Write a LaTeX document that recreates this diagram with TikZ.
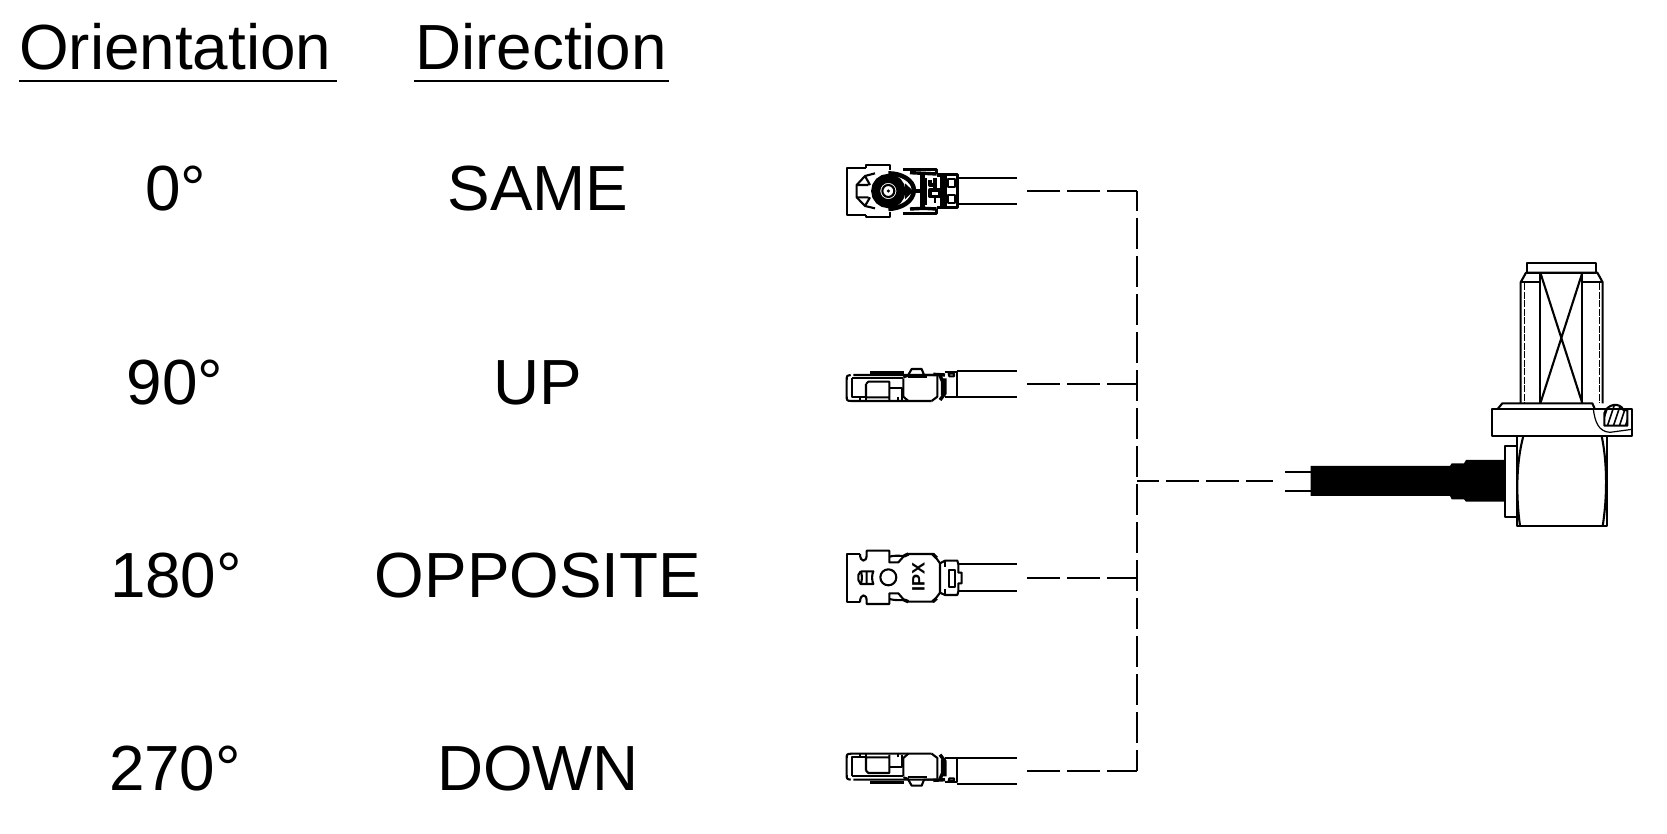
\documentclass[tikz,border=0pt]{standalone}
\usepackage{fontspec}
\setmainfont{Liberation Sans}
\tikzset{
  x=1pt,y=-1pt,
  lab/.style={anchor=base,inner sep=0pt,font=\fontsize{63.8}{64}\selectfont},
  head/.style={anchor=base west,inner sep=0pt,font=\fontsize{63.8}{64}\selectfont},
  rule/.style={line width=2pt},
  ln/.style={line width=2.1pt,line join=round},
  thk/.style={line width=3.4pt,line join=round},
  fine/.style={line width=1.2pt},
  dashline/.style={line width=2.4pt,dash pattern=on 33pt off 7pt},
  zoomframe/.style={x=0.33333pt,y=-0.33333pt},
}
% side view of the plug, in zoom units
\newcommand{\sideplug}{%
  \draw[ln] (70,105) -- (320,105) (62,105) .. controls (50,107) .. (50,122) -- (50,168) .. controls (50,182) .. (64,183) -- (305,183);
  \draw[ln] (66,115) -- (218,115) (66,115) -- (66,172) -- (108,172);
  \draw[thk] (120,97) -- (222,97);
  \draw[ln] (108,132) -- (115,125) -- (178,125) -- (178,180) (108,132) -- (108,172) -- (178,172);
  \draw[ln] (180,143) -- (215,143) -- (215,180) (200,115) -- (220,115);
  \draw[ln] (90,172) -- (90,183) (108,172) -- (108,183) (205,172) -- (205,183);
  \draw[ln] (220,115) -- (220,170) -- (235,183);
  \draw[ln] (220,112) -- (233,108) -- (245,87) -- (275,87) -- (282,105) -- (320,105);
  \draw[ln] (233,112) -- (290,112);
  \draw[ln] (305,183) -- (322,170) -- (322,108);
  \draw[thk] (330,107) -- (338,125) -- (338,165) (345,115) -- (345,160) -- (330,180);
  \draw[thk] (310,103) -- (345,105);
  \draw[ln] (345,97) -- (380,97) -- (380,170) -- (345,170);
  \draw[ln] (356,101) -- (372,101) -- (372,109) -- (358,109) -- cycle;
  \draw[ln] (380,92) -- (562,92) (380,170) -- (562,170);
}
\begin{document}
\begin{tikzpicture}
\useasboundingbox[fill=white] (0,0) rectangle (1667,834);

% headings
\node[head] (hOrient) at (19,69.5) {Orientation};
\node[head] (hDir) at (415,69.5) {Direction};
\coordinate (u1a) at (19,81); \coordinate (u1b) at (337,81);
\coordinate (u2a) at (414,81); \coordinate (u2b) at (669,81);
\draw[rule] (u1a) -- (u1b);
\draw[rule] (u2a) -- (u2b);

% table
\node[lab] (o0) at (176,211) {0°};
\node[lab] (o90) at (175,404) {90°};
\node[lab] (o180) at (176,597) {180°};
\node[lab] (o270) at (175,790) {270°};
\node[lab] (dSame) at (538,211) {SAME};
\node[lab] (dUp) at (538,404) {UP};
\node[lab] (dOpp) at (538,597) {OPPOSITE};
\node[lab] (dDown) at (538,790) {DOWN};

% plug, 0 deg
\begin{scope}[shift={(830,140)},zoomframe]
  \draw[ln] (108,83) -- (50,83) -- (50,225) -- (108,225);
  \draw[ln] (108,83) -- (108,74) -- (180,74) -- (180,90);
  \draw[ln] (108,225) -- (108,232) -- (180,232) -- (180,215);
  \draw[ln] (135,100) -- (105,108) -- (80,135) -- (80,172) -- (105,198) -- (135,205);
  \draw[ln] (80,135) -- (115,135) (80,172) -- (115,172) (105,108) -- (120,135) (105,198) -- (120,172);
  \draw[line width=9pt] (175,153) circle (38);
  \draw[ln] (175,153) circle (18);
  \fill (175,153) circle (5);
  \draw[line width=4.5pt] (175,100) .. controls (215,100) and (250,120) .. (252,150) .. controls (250,185) and (215,205) .. (175,207);
  \draw[thk] (220,88) -- (320,88) -- (320,102) (220,220) -- (320,220) -- (320,207);
  \draw[thk] (240,98) -- (280,100) -- (320,102) (240,207) -- (280,205) -- (320,207);
  \fill (225,130) -- (250,153) -- (225,178) -- cycle;
  \draw[line width=4.5pt] (250,153) -- (285,153) (278,105) -- (278,200) (285,115) -- (285,195);
  \draw[thk] (300,120) -- (300,135) -- (315,135) -- (315,115);
  \draw[thk] (315,135) -- (315,150) -- (300,150) -- (300,170) -- (330,170) -- (330,150) -- (315,150);
  \draw[ln] (315,170) -- (315,190);
  \draw[thk] (322,105) -- (345,105) (322,203) -- (345,203) (335,105) -- (335,203);
  \draw[thk] (345,103) -- (382,103) -- (382,203) -- (345,203) -- cycle;
  \draw[ln] (355,116) rectangle (375,140) (355,165) rectangle (375,190);
  \draw[ln] (382,113) -- (562,113) (382,192) -- (562,192);
\end{scope}

% plug, 90 deg
\begin{scope}[shift={(830,340)},zoomframe]
  \sideplug
\end{scope}

% plug, 180 deg
\begin{scope}[shift={(830,530)},zoomframe]
  \draw[ln] (90,72) -- (52,72) -- (52,217) -- (90,217);
  \draw[ln] (90,72) .. controls (90,98) and (110,98) .. (110,75) -- (110,62) -- (178,62) -- (178,97) -- (205,97) -- (222,78) -- (235,72) -- (310,72) -- (330,100) -- (330,188) -- (310,215) -- (235,215) -- (222,210) -- (205,190) -- (178,190) -- (178,222) -- (110,222) -- (110,212) .. controls (110,190) and (90,190) .. (90,217);
  \draw[ln] (178,80) .. controls (195,75) and (215,78) .. (222,78) (178,207) .. controls (195,212) and (215,210) .. (222,210);
  \draw[thk] (222,78) -- (235,72) (222,210) -- (235,215) (308,72) -- (320,84) (308,215) -- (320,205);
  \draw[ln] (330,100) -- (345,92) -- (382,92) -- (385,103) -- (385,128) -- (395,128) -- (395,160) -- (385,160) -- (385,184) -- (382,195) -- (345,195) -- (330,188);
  \draw[ln] (345,92) -- (345,110) (345,178) -- (345,195);
  \draw[ln] (356,120) rectangle (375,172);
  \draw[ln] (385,103) -- (562,103) (385,182) -- (562,182);
  \draw[ln] (175,142) circle (24);
  \draw[ln] (92,124) -- (130,124) .. controls (125,135) and (125,150) .. (130,162) -- (92,162) .. controls (97,150) and (97,135) .. (92,124);
  \draw[ln] (110,124) -- (110,162) (92,124) -- (85,135) -- (85,150) -- (92,162);
  \node[rotate=90,inner sep=0pt,font=\fontsize{18}{18}\bfseries\selectfont] (ipx) at (265,140) {IPX};
\end{scope}

% plug, 270 deg
\begin{scope}[shift={(830,814.67)},x=0.33333pt,y=0.33333pt]
  \sideplug
\end{scope}

% connectors
\coordinate (p1) at (1027,191);
\coordinate (p2) at (1027,384);
\coordinate (p3) at (1027,578);
\coordinate (p4) at (1027,771);
\coordinate (c1) at (1137,191);
\coordinate (c2) at (1137,384);
\coordinate (c3) at (1137,578);
\coordinate (c4) at (1137,771);
\coordinate (hub) at (1137,481);
\coordinate (lead) at (1273,481);
\draw[dashline] (p1) -- (c1);
\draw[dashline] (p2) -- (c2);
\draw[dashline] (p3) -- (c3);
\draw[dashline] (p4) -- (c4);
\draw[line width=2.4pt,dash pattern=on 31pt off 7pt,dash phase=11pt] (c1) -- (c4);
\draw[dashline,dash phase=6pt] (lead) -- (hub);

% solenoid
\begin{scope}[shift={(1270,250)},zoomframe]
  \draw[ln] (770,38) rectangle (978,68);
  \draw[ln] (752,460) -- (752,97) -- (768,68) -- (982,68) -- (998,97) -- (998,460);
  \draw[ln] (752,97) -- (811,97) (937,97) -- (998,97);
  \draw[ln] (811,68) -- (811,460) (937,68) -- (937,460);
  \draw[ln] (811,68) -- (937,460) (937,68) -- (811,460);
  \draw[fine,dash pattern=on 7pt off 1.5pt] (763,100) -- (763,460) (988,100) -- (988,460);
  \draw[ln] (682,478) -- (697,460) -- (967,460) -- (975,478);
  \draw[ln] (665,478) rectangle (1086,558);
  \draw[fine] (970,478) .. controls (975,515) and (985,545) .. (1020,547) -- (1086,538);
  \begin{scope}
    \clip (1003,527) -- (1003,490) .. controls (1010,462) and (1050,455) .. (1060,480) -- (1072,480) -- (1072,527) -- cycle;
    \foreach \i in {0,18,...,120} {
      \draw[line width=1.6pt] (990+\i,540) -- (1020+\i,450);
    }
  \end{scope}
  \draw[ln] (1003,527) -- (1003,490) .. controls (1010,462) and (1050,455) .. (1060,480) -- (1072,480) -- (1072,527) -- cycle;
  \draw[ln] (740,558) -- (740,828) -- (1012,828) -- (1012,558);
  \draw[ln] (760,558) .. controls (738,640) and (738,740) .. (750,828);
  \draw[ln] (995,558) .. controls (1012,640) and (1012,740) .. (998,828);
  \draw[ln] (740,588) -- (704,588) -- (704,802) -- (745,802);
  \fill (122,648) -- (540,648) -- (545,640) -- (582,640) -- (588,630) -- (704,630) -- (704,755) -- (588,755) -- (582,748) -- (545,748) -- (540,738) -- (122,738) -- cycle;
  \draw[ln] (45,666) -- (122,666) (45,722) -- (122,722);
\end{scope}
\end{tikzpicture}
\end{document}
